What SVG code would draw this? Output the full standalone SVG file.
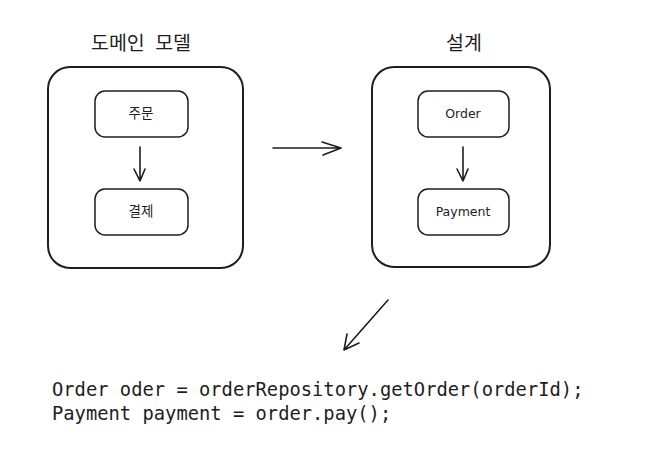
<svg xmlns="http://www.w3.org/2000/svg" width="665" height="467" viewBox="0 0 665 467">
<defs>
<style>
.outer{fill:none;stroke:#1e1e1e;stroke-width:2}
.inner{fill:none;stroke:#1e1e1e;stroke-width:1.5}
.title{font-family:"Noto Sans CJK KR","Noto Sans",sans-serif;font-size:19.5px;fill:#1e1e1e;text-anchor:middle}
.lbl{font-family:"Noto Sans CJK KR","Noto Sans",sans-serif;font-size:13.5px;fill:#1e1e1e;text-anchor:middle}
.hand{font-family:"Comic Sans MS","DejaVu Sans",sans-serif;font-size:12.5px;fill:#1e1e1e;text-anchor:middle}
.code{font-family:"DejaVu Sans Mono","Liberation Mono",monospace;font-size:18.8px;fill:#1e1e1e}
.conn{fill:none;stroke:#1e1e1e;stroke-width:1.6;stroke-linecap:round;stroke-linejoin:round}
</style>
</defs>
<rect width="665" height="467" fill="#ffffff"/>
<g id="domain-model">
<text class="title" x="141" y="50" word-spacing="6">도메인 모델</text>
<rect class="outer" x="48" y="67" width="195" height="201" rx="22"/>
</g>
<g id="order-ko">
<rect class="inner" x="95" y="91" width="93" height="46" rx="10"/>
<text class="lbl" x="141" y="118">주문</text>
</g>
<g id="payment-ko">
<rect class="inner" x="95" y="189" width="93" height="46" rx="10"/>
<text class="lbl" x="141" y="216">결제</text>
</g>
<g id="design">
<text class="title" x="464" y="50">설계</text>
<rect class="outer" x="372" y="67" width="178" height="200" rx="22"/>
</g>
<g id="order-en">
<rect class="inner" x="418" y="91" width="91" height="46" rx="10"/>
<text class="hand" x="463" y="118">Order</text>
</g>
<g id="payment-en">
<rect class="inner" x="418" y="189" width="91" height="46" rx="10"/>
<text class="hand" x="463" y="216">Payment</text>
</g>
<g id="code">
<text class="code" x="52" y="396">Order oder = orderRepository.getOrder(orderId);</text>
<text class="code" x="52" y="420">Payment payment = order.pay();</text>
</g>
<g id="connectors">
<path class="conn" d="M140 147 L140 181 M134 169 L140 181 L145 169"/>
<path class="conn" d="M463 147 L463 181 M457 169 L463 181 L468 169"/>
<path class="conn" d="M273 148 L341 148 M322 142 L341 148 L323 155"/>
<path class="conn" d="M388 300 L344 350 M347 334 L344 350 L359 343"/>
</g>
</svg>
